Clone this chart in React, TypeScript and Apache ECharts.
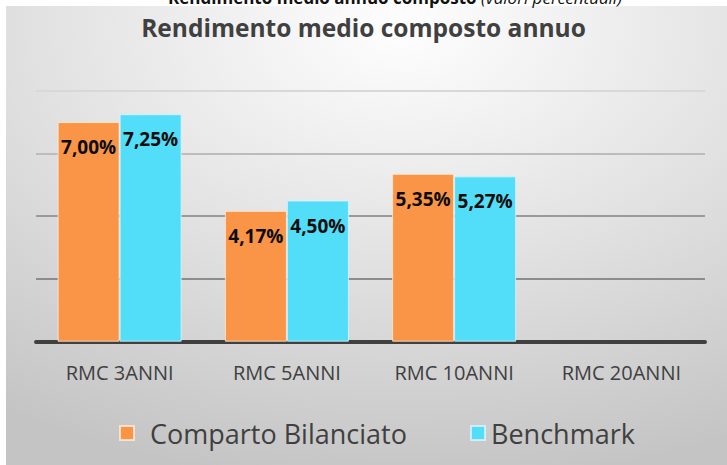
import React, { useEffect, useRef } from "react";
import * as echarts from "echarts";

const categories = ["RMC 3ANNI", "RMC 5ANNI", "RMC 10ANNI", "RMC 20ANNI"];
const compartoValues: (number | null)[] = [7.0, 4.17, 5.35, null];
const benchmarkValues: (number | null)[] = [7.25, 4.5, 5.27, null];
const seriesNames = ["Comparto Bilanciato", "Benchmark"];
const chartTitle = "Rendimento medio composto annuo";
const cutTitleBold = "Rendimento medio annuo composto ";
const cutTitleItalic = "(valori percentuali)";

const FONT = "'Open Sans', 'Noto Sans', sans-serif";

const fmt = (v: number) => v.toFixed(2).replace(".", ",") + "%";

export default function App() {
  const ref = useRef<HTMLDivElement>(null);
  useEffect(() => {
    if (!ref.current) return;
    const chart = echarts.init(ref.current, null, { renderer: "svg" });
    const labelCfg = {
      show: true,
      position: "insideTop",
      distance: 15,
      color: "#0d0d0d",
      fontFamily: FONT,
      fontWeight: "bold",
      fontSize: 19,
      lineHeight: 20,
      formatter: (p: any) => fmt(p.value),
    };
    chart.setOption({
      animation: false,
      backgroundColor: "transparent",
      textStyle: { fontFamily: FONT },
      graphic: [
        {
          type: "text",
          x: 622,
          y: 6,
          z: 0,
          style: {
            text: "{b|" + cutTitleBold + "}{i|" + cutTitleItalic + "}",
            align: "right",
            verticalAlign: "bottom",
            rich: {
              b: { fontFamily: FONT, fontSize: 17, fontWeight: "bold", fill: "#111" },
              i: { fontFamily: FONT, fontSize: 17, fontStyle: "italic", fill: "#111" },
            },
          },
        },
        {
          type: "rect",
          z: -10,
          shape: { x: 6, y: 6, width: 721, height: 459 },
          style: {
            fill: new echarts.graphic.RadialGradient(0.55, 0.05, 1.0, [
              { offset: 0, color: "#fefefe" },
              { offset: 0.5, color: "#e2e2e2" },
              { offset: 1, color: "#c4c4c4" },
            ]),
          },
        },
      ],
      title: {
        text: chartTitle,
        left: "center",
        top: 10,
        textStyle: {
          fontFamily: FONT,
          fontSize: 24.5,
          fontWeight: "bold",
          color: "#404040",
        },
      },
      legend: [
        {
          data: [seriesNames[0]],
          left: 114,
          top: 412,
          icon: "rect",
          itemWidth: 14,
          itemHeight: 14,
          textStyle: {
            fontFamily: FONT,
            fontSize: 27,
            lineHeight: 32,
            color: "#404040",
            padding: [0, 0, 0, 11],
          },
        },
        {
          data: [seriesNames[1]],
          left: 465,
          top: 412,
          icon: "rect",
          itemWidth: 14,
          itemHeight: 14,
          textStyle: {
            fontFamily: FONT,
            fontSize: 27,
            lineHeight: 32,
            color: "#404040",
            padding: [0, 0, 0, 1],
          },
        },
      ],
      grid: { left: 36, right: 22, top: 90.7, bottom: 123.3 },
      xAxis: {
        type: "category",
        data: categories,
        axisTick: { show: false },
        axisLine: { lineStyle: { color: "#404040", width: 4 } },
        axisLabel: {
          fontFamily: FONT,
          fontSize: 20,
          color: "#404040",
          margin: 21,
        },
      },
      yAxis: {
        type: "value",
        min: 0,
        max: 8,
        interval: 2,
        axisLabel: { show: false },
        axisLine: { show: false },
        axisTick: { show: false },
        splitLine: {
          lineStyle: {
            color: ["#8a8a8a", "#8c8c8c", "#9a9a9a", "#bcbcbc", "#d8d8d8"],
            width: 2,
          },
        },
      },
      series: [
        {
          name: seriesNames[0],
          type: "bar",
          data: compartoValues,
          barWidth: 62,
          barGap: "0%",
          itemStyle: {
            color: "#FA9446",
            borderColor: "rgba(255,235,215,0.8)",
            borderWidth: 1,
          },
          label: labelCfg,
        },
        {
          name: seriesNames[1],
          type: "bar",
          data: benchmarkValues,
          barWidth: 62,
          itemStyle: {
            color: "#52DDF8",
            borderColor: "rgba(215,245,255,0.8)",
            borderWidth: 1,
          },
          label: labelCfg,
        },
      ],
    });
    return () => chart.dispose();
  }, []);
  return (
    <div
      ref={ref}
      style={{
        position: "fixed",
        left: 0,
        top: 0,
        width: 727,
        height: 465,
        background: "#ffffff",
      }}
    />
  );
}
